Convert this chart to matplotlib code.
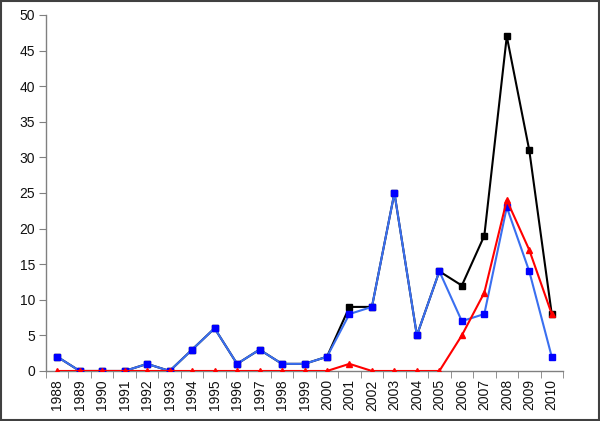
import numpy as np
import matplotlib
matplotlib.use("Agg")
import matplotlib.pyplot as plt
from matplotlib.patches import Rectangle

years = [str(y) for y in range(1988, 2011)]
total = [2, 0, 0, 0, 1, 0, 3, 6, 1, 3, 1, 1, 2, 9, 9, 25, 5, 14, 12, 19, 47, 31, 8]
blue_series = [2, 0, 0, 0, 1, 0, 3, 6, 1, 3, 1, 1, 2, 8, 9, 25, 5, 14, 7, 8, 23, 14, 2]
red_series = [0, 0, 0, 0, 0, 0, 0, 0, 0, 0, 0, 0, 0, 1, 0, 0, 0, 0, 5, 11, 24, 17, 8]

plt.rcParams['font.family'] = ['Liberation Sans', 'DejaVu Sans']

fig = plt.figure(figsize=(6, 4.21), dpi=100)
ax = fig.add_axes([0.0767, 0.1188, 0.8616, 0.8456])

x = np.arange(len(years))
ax.plot(x, total, color='black', lw=1.5, marker='s', ms=5, mfc='black', mec='black', zorder=3)
ax.plot(x, blue_series, color='#3A6FF0', lw=1.5, marker='s', ms=5, mfc='#0000FF', mec='#0000FF', zorder=4)
ax.plot(x, red_series, color='#FF0000', lw=1.5, marker='^', ms=5, mfc='#FF0000', mec='#FF0000', zorder=5)

ax.set_xlim(-0.5, len(years) - 0.5)
ax.set_ylim(0, 50)
ax.set_yticks(range(0, 51, 5))
ax.set_xticks(x)
ax.set_xticklabels(years, rotation=90, fontsize=10)
ax.set_xticks(np.arange(-0.5, len(years), 1), minor=True)
ax.tick_params(axis='x', which='major', length=0, pad=6)
ax.tick_params(axis='x', which='minor', length=5, color='#808080', direction='out')
ax.tick_params(axis='y', length=5, color='#808080', labelsize=10, pad=3)

for s in ['top', 'right']:
    ax.spines[s].set_visible(False)
for s in ['left', 'bottom']:
    ax.spines[s].set_color('#808080')
    ax.spines[s].set_linewidth(1)
for lab in ax.get_xticklabels() + ax.get_yticklabels():
    lab.set_color('#111111')

fig.patches.append(Rectangle((0.002, 0.003), 0.996, 0.994, transform=fig.transFigure,
                             fill=False, edgecolor='#404040', lw=1.5))

fig.savefig('out.png', dpi=100)
